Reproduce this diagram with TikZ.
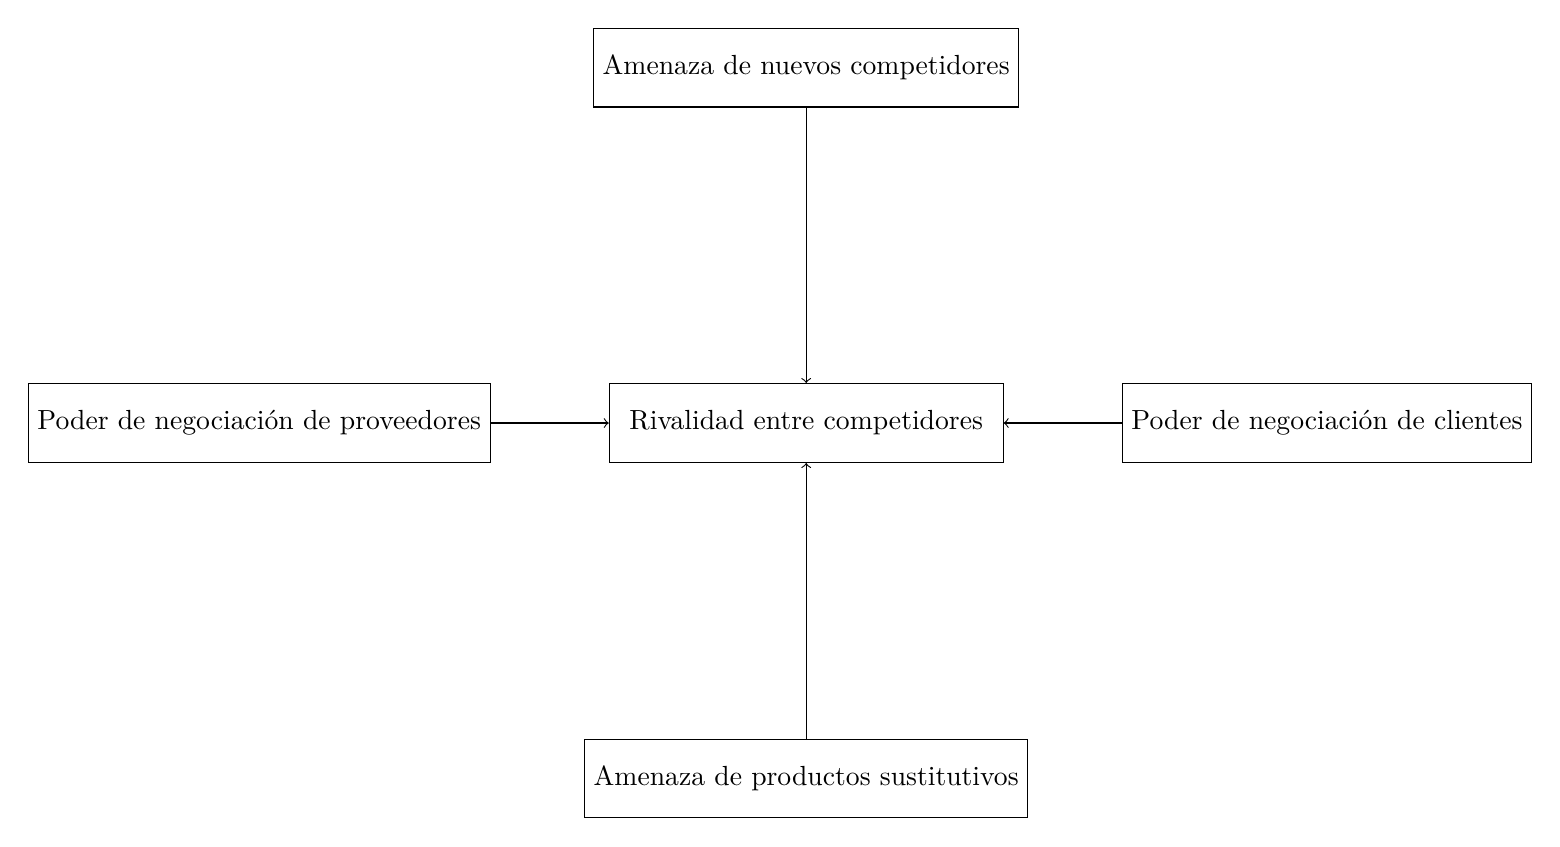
\documentclass[tikz,border=0pt]{standalone}
\usetikzlibrary{positioning}
\begin{document}
\begin{tikzpicture}[
  force/.style={draw, minimum height=1cm},
  core/.style={draw, minimum height=1cm, minimum width=5cm},
  link/.style={->}
]
\node[core] (center) {Rivalidad entre competidores};
\node[force, above=3.5cm of center] (top) {Amenaza de nuevos competidores};
\node[force, below=3.5cm of center] (bottom) {Amenaza de productos sustitutivos};
\node[force, left=1.5cm of center] (left) {Poder de negociación de proveedores};
\node[force, right=1.5cm of center] (right) {Poder de negociación de clientes};
\draw[link] (top) -- (center);
\draw[link] (bottom) -- (center);
\draw[link] (left) -- (center);
\draw[link] (right) -- (center);
\path (current bounding box.south west) ++(-10pt,-10pt) coordinate (bbsw);
\path (current bounding box.north east) ++(10pt,10pt) coordinate (bbne);
\useasboundingbox (bbsw) rectangle (bbne);
\end{tikzpicture}
\end{document}
